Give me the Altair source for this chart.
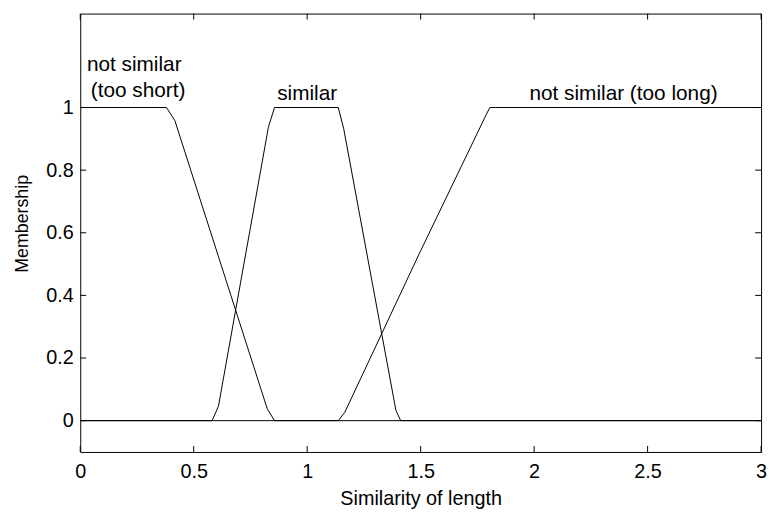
import altair as alt
import pandas as pd

# Membership functions (vertices)
short_x = [0.0, 0.38, 0.417, 0.824, 0.856, 3.0]
short_y = [1.0, 1.0, 0.958, 0.038, 0.0, 0.0]

similar_x = [0.0, 0.581, 0.609, 0.829, 0.856, 1.137, 1.161, 1.391, 1.412, 3.0]
similar_y = [0.0, 0.0, 0.046, 0.937, 1.0, 1.0, 0.932, 0.033, 0.0, 0.0]

long_x = [0.0, 1.137, 1.166, 1.493, 1.788, 1.805, 3.0]
long_y = [0.0, 0.0, 0.027, 0.532, 0.976, 1.0, 1.0]

label_text = ["not similar", "(too short)", "similar", "not similar (too long)"]
label_x = [0.238, 0.255, 1.0, 2.394]
label_y = [1.116, 1.034, 1.025, 1.025]

x_ticks = [0, 0.5, 1, 1.5, 2, 2.5, 3]
y_ticks = [0, 0.2, 0.4, 0.6, 0.8, 1]

rows = []
for name, xs, ys in [("short", short_x, short_y), ("similar", similar_x, similar_y), ("long", long_x, long_y)]:
    for i, (a, b) in enumerate(zip(xs, ys)):
        rows.append({"series": name, "idx": i, "x": a, "y": b})
df = pd.DataFrame(rows)
df_text = pd.DataFrame({"text": label_text, "x": label_x, "y": label_y})
df_xt = pd.DataFrame({"x": x_ticks})
df_yt = pd.DataFrame({"y": y_ticks})

FONT = "Liberation Sans"
W, H = 688, 443
TL = 6  # tick length in px
XT = "Similarity of length"
YT = "Membership"

xscale = alt.Scale(domain=[0, 3], nice=False, zero=False)
yscale = alt.Scale(domain=[-0.1, 1.3], nice=False, zero=False)

lines = alt.Chart(df).mark_line(color="black", strokeWidth=1).encode(
    x=alt.X("x:Q", scale=xscale, title=XT,
            axis=alt.Axis(values=x_ticks, format="~g", ticks=False, domain=False, grid=False,
                          labelFont=FONT, labelFontSize=20, labelColor="black", labelPadding=10,
                          labelFlush=False, labelOverlap=False,
                          titleFont=FONT, titleFontSize=20, titleFontWeight="normal", titleColor="black",
                          titleY=53, titleBaseline="alphabetic")),
    y=alt.Y("y:Q", scale=yscale, title=YT,
            axis=alt.Axis(values=y_ticks, format="~g", ticks=False, domain=False, grid=False,
                          labelExpr="datum.value == 0 || datum.value == 1 ? datum.label + '\u00a0\u00a0' : datum.label",
                          labelFont=FONT, labelFontSize=20, labelColor="black", labelPadding=7,
                          labelOverlap=False, labelFlush=False,
                          titleFont=FONT, titleFontSize=18, titleFontWeight="normal", titleColor="black",
                          titleX=-58, titleY=212, titleBaseline="middle", titleAngle=270, titleAlign="center")),
    detail="series:N",
    order="idx:Q",
)

tick_style = dict(color="black", strokeWidth=1)
xt_bottom = alt.Chart(df_xt).mark_rule(**tick_style).encode(
    x=alt.X("x:Q", scale=xscale, title=XT), y=alt.value(H), y2=alt.value(H - TL))
xt_top = alt.Chart(df_xt).mark_rule(**tick_style).encode(
    x=alt.X("x:Q", scale=xscale, title=XT), y=alt.value(0), y2=alt.value(TL))
yt_left = alt.Chart(df_yt).mark_rule(**tick_style).encode(
    y=alt.Y("y:Q", scale=yscale, title=YT), x=alt.value(0), x2=alt.value(TL))
yt_right = alt.Chart(df_yt).mark_rule(**tick_style).encode(
    y=alt.Y("y:Q", scale=yscale, title=YT), x=alt.value(W), x2=alt.value(W - TL))

texts = alt.Chart(df_text).mark_text(font=FONT, fontSize=21, color="black", align="center",
                                     baseline="alphabetic").encode(
    x=alt.X("x:Q", scale=xscale, title=XT),
    y=alt.Y("y:Q", scale=yscale, title=YT),
    text="text:N",
)

chart = alt.layer(lines, xt_bottom, xt_top, yt_left, yt_right, texts).properties(
    width=W, height=H,
    autosize=alt.AutoSizeParams(type="none"),
    padding={"left": 73, "top": 3, "right": 7, "bottom": 55},
    background="white",
).configure_view(stroke="black", strokeWidth=1)

chart.save("out.html", embed_options={"renderer": "svg", "actions": False})
